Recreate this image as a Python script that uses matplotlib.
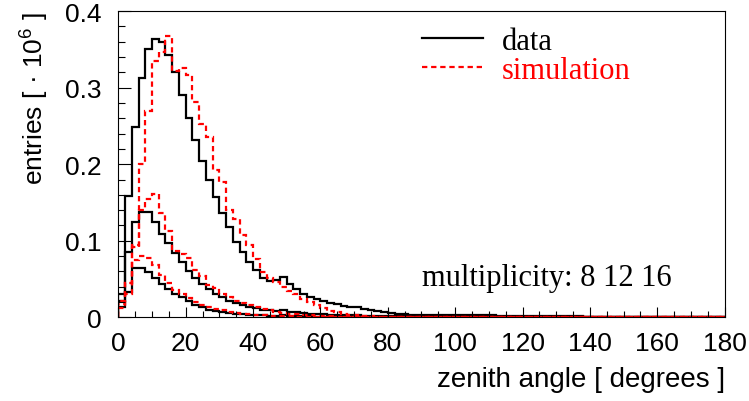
import numpy as np
import matplotlib.pyplot as plt
from matplotlib.lines import Line2D

plt.rcParams['font.family'] = ['Liberation Sans', 'DejaVu Sans']
plt.rcParams['mathtext.fontset'] = 'custom'
plt.rcParams['mathtext.rm'] = 'Liberation Sans'

# zenith angle histograms, 2 degree bins, entries in units of 10^6
bin_edges = np.linspace(0, 180, 91)

# data, multiplicity 8
data_m8 = ([0.030, 0.159, 0.249, 0.313, 0.351, 0.364, 0.360, 0.342, 0.321, 0.291,
            0.261, 0.231, 0.204, 0.179, 0.157, 0.136, 0.118, 0.099, 0.085, 0.072,
            0.062, 0.052, 0.047, 0.049, 0.053, 0.043, 0.037, 0.030, 0.027, 0.024,
            0.021, 0.019, 0.017, 0.015, 0.014, 0.013, 0.011, 0.0095, 0.0085, 0.0065,
            0.0055, 0.0048, 0.004, 0.0035, 0.0032, 0.003, 0.003, 0.0029, 0.0028, 0.0028,
            0.0027, 0.0027, 0.0026, 0.0026, 0.0025, 0.0025, 0.0024, 0.0024, 0.0023, 0.0023,
            0.0022, 0.0022, 0.0021, 0.0021, 0.002, 0.002, 0.0019, 0.0018, 0.0012, 0.001,
            0.0009, 0.0008, 0.0007, 0.0006, 0.0005, 0.0005, 0.0004, 0.0004, 0.0003, 0.0003]
           + [0.0002] * 5 + [0.0001] * 5)

# data, multiplicity 12
data_m12 = ([0.022, 0.085, 0.124, 0.138, 0.137, 0.125, 0.109, 0.097, 0.084, 0.072,
             0.060, 0.052, 0.044, 0.037, 0.030, 0.026, 0.022, 0.019, 0.016, 0.014,
             0.012, 0.010, 0.009, 0.0085, 0.009, 0.0075, 0.0065, 0.0055, 0.005, 0.0045,
             0.004, 0.0036, 0.0033, 0.003, 0.0027, 0.0025, 0.0022, 0.002, 0.0018, 0.0016]
            + [0.0013] * 10 + [0.0009] * 10 + [0.0006] * 10 + [0.0003] * 10 + [0.0001] * 10)

# data, multiplicity 16
data_m16 = ([0.013, 0.033, 0.065, 0.065, 0.059, 0.052, 0.044, 0.037, 0.030, 0.026,
             0.022, 0.016, 0.013, 0.010, 0.0085, 0.007, 0.006, 0.005, 0.0042, 0.0035,
             0.003, 0.0026, 0.0023, 0.0022, 0.0025, 0.002, 0.0017, 0.0014, 0.0012, 0.001]
            + [0.0007] * 10 + [0.0004] * 10 + [0.0003] * 10 + [0.0002] * 10 + [0.0001] * 10
            + [0.0] * 10)

# simulation, multiplicity 8
sim_m8 = ([0.022, 0.045, 0.092, 0.200, 0.270, 0.335, 0.347, 0.367, 0.322, 0.325,
           0.316, 0.281, 0.252, 0.235, 0.193, 0.177, 0.140, 0.128, 0.107, 0.094,
           0.076, 0.059, 0.052, 0.046, 0.040, 0.035, 0.031, 0.024, 0.0196, 0.016,
           0.0118, 0.0087, 0.0065, 0.0043, 0.003, 0.0025, 0.002, 0.0015, 0.001, 0.0008,
           0.0006, 0.0005, 0.0004, 0.0003, 0.0002]
          + [0.0001] * 15 + [0.0] * 30)

# simulation, multiplicity 12
sim_m12 = ([0.018, 0.045, 0.094, 0.140, 0.155, 0.161, 0.136, 0.113, 0.087, 0.083,
            0.078, 0.062, 0.054, 0.042, 0.038, 0.030, 0.026, 0.022, 0.019, 0.016,
            0.013, 0.011, 0.009, 0.0075, 0.006, 0.005, 0.004, 0.0032, 0.0025, 0.002,
            0.0015, 0.0012, 0.001, 0.0008, 0.0006, 0.0005, 0.0004, 0.0003, 0.0002, 0.0002]
           + [0.0001] * 20 + [0.0] * 30)

# simulation, multiplicity 16
sim_m16 = ([0.012, 0.030, 0.075, 0.080, 0.078, 0.068, 0.055, 0.045, 0.036, 0.030,
            0.025, 0.020, 0.016, 0.013, 0.011, 0.009, 0.007, 0.006, 0.005, 0.004,
            0.0033, 0.0027, 0.0022, 0.0018, 0.0015, 0.0012, 0.001, 0.0008, 0.0006, 0.0005,
            0.0004, 0.0003, 0.0003, 0.0002, 0.0002, 0.0002, 0.0001, 0.0001, 0.0001, 0.0001]
           + [0.0] * 50)

xticks = [0, 20, 40, 60, 80, 100, 120, 140, 160, 180]
xtick_labels = ['0', '20', '40', '60', '80', '100', '120', '140', '160', '180']
yticks = [0, 0.1, 0.2, 0.3, 0.4]
ytick_labels = ['0', '0.1', '0.2', '0.3', '0.4']

sim_dash = (0, (2.4, 1.7))

fig = plt.figure(figsize=(7.49, 4.02), dpi=100)
ax = fig.add_axes([0.158, 0.208, 0.8095, 0.762])

for vals in (data_m8, data_m12, data_m16):
    ax.stairs(vals, bin_edges, color='black', lw=1.6, baseline=0)
for vals in (sim_m8, sim_m12, sim_m16):
    ax.stairs(vals, bin_edges, color='red', lw=1.6, linestyle=sim_dash, baseline=0)

ax.set_xlim(0, 180)
ax.set_ylim(0, 0.4)
ax.set_xticks(xticks, xtick_labels)
ax.set_yticks(yticks, ytick_labels)
ax.set_xticks(np.arange(0, 181, 5), minor=True)
ax.set_yticks(np.arange(0, 0.401, 0.02), minor=True)
ax.tick_params(which='both', direction='in', top=False, right=False, width=0.8)
ax.tick_params(axis='x', which='major', length=7.2, labelsize=19, pad=10)
ax.tick_params(axis='x', which='minor', length=4.3)
ax.tick_params(axis='y', which='major', length=9, labelsize=19, pad=12)
ax.tick_params(axis='y', which='minor', length=4.8)
for s in ax.spines.values():
    s.set_linewidth(0.8)

ax.set_xlabel('zenith angle [ degrees ]', loc='right', fontsize=20, labelpad=8)
ax.set_ylabel('entries [ · $\\mathregular{10^{6}}$ ]', loc='top', fontsize=19, labelpad=10)

handles = [Line2D([], [], color='black', lw=1.6),
           Line2D([], [], color='red', lw=1.6, linestyle=sim_dash)]
ax.legend(handles, ['data', 'simulation'], loc='upper left', bbox_to_anchor=(0.501, 0.948),
          frameon=False, prop={'family': 'Liberation Serif', 'size': 22},
          labelcolor=['black', 'red'], handlelength=2.0, handletextpad=0.6,
          labelspacing=0.0, borderpad=0, borderaxespad=0)

ax.text(0.501, 0.1316, 'multiplicity: 8 12 16', transform=ax.transAxes,
        family='Liberation Serif', fontsize=22, va='center', ha='left')

fig.savefig('out.png', dpi=100)
